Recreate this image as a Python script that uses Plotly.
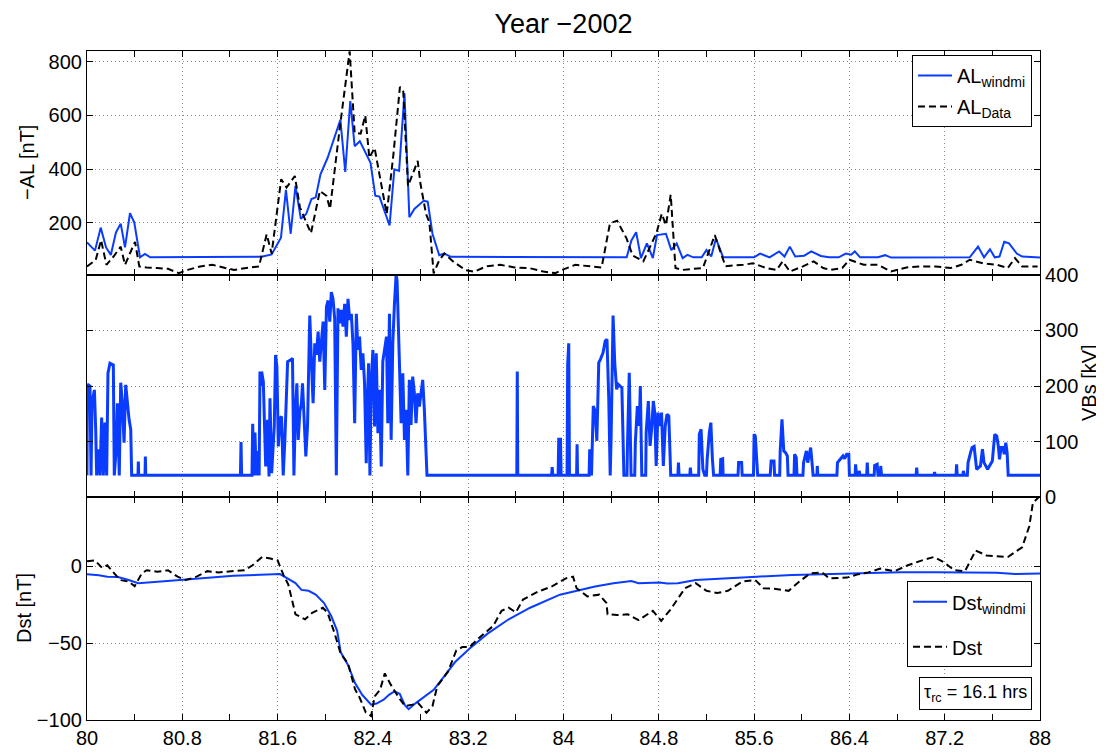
import plotly.graph_objects as go

# ---------------- data ----------------
x_ticks = [80, 80.8, 81.6, 82.4, 83.2, 84, 84.8, 85.6, 86.4, 87.2, 88]
x_tick_labels = ["80", "80.8", "81.6", "82.4", "83.2", "84", "84.8", "85.6", "86.4", "87.2", "88"]
al_ticks = [200, 400, 600, 800]
vbs_ticks = [0, 100, 200, 300, 400]
dst_ticks = [-100, -50, 0]

# -AL from WINDMI model
al_windmi_x = [
    80.0, 80.067, 80.115, 80.16, 80.2, 80.243, 80.283, 80.319, 80.361, 80.397,
    80.445, 80.487, 80.53, 81.466, 81.55, 81.628, 81.67, 81.71, 81.75, 81.795,
    81.84, 81.884, 81.92, 81.96, 82.02, 82.127, 82.168, 82.21, 82.247, 82.29,
    82.38, 82.42, 82.455, 82.54, 82.58, 82.62, 82.665, 82.706, 82.748, 82.826,
    82.86, 82.90, 82.957, 82.999, 83.055, 84.53, 84.57, 84.61, 84.65, 84.70,
    84.75, 84.785, 84.86, 84.905, 84.95, 85.0, 85.04, 85.09, 85.16, 85.2,
    85.24, 85.28, 85.34, 85.6, 85.65, 85.73, 85.81, 85.855, 85.9, 85.945,
    86.02, 86.08, 86.16, 86.23, 86.31, 86.37, 86.415, 86.445, 86.49, 86.64,
    86.7, 86.75, 87.41, 87.48, 87.53, 87.58, 87.62, 87.66, 87.70, 87.74,
    87.805, 87.85, 88.0]
al_windmi = [
    126, 95, 181, 107, 79, 163, 196, 107, 235, 200,
    70, 83, 70, 72, 81, 143, 322, 158, 337, 214,
    232, 288, 294, 380, 442, 584, 389, 654, 485, 504,
    423, 300, 297, 189, 399, 393, 683, 220, 251, 281,
    278, 158, 78, 84, 72, 70, 133, 164, 67, 122,
    67, 153, 158, 97, 122, 67, 79, 70, 70, 97,
    73, 140, 70, 70, 84, 70, 92, 73, 110, 73,
    76, 92, 75, 70, 70, 84, 80, 92, 70, 70,
    78, 69, 70, 110, 70, 100, 70, 73, 128, 122,
    84, 73, 69]

# -AL observed
al_data_x = [
    80.0, 80.073, 80.118, 80.163, 80.223, 80.283, 80.319, 80.369, 80.403, 80.439,
    80.5, 80.588, 80.68, 80.77, 80.845, 80.95, 81.054, 81.16, 81.234, 81.369,
    81.444, 81.508, 81.55, 81.63, 81.675, 81.745, 81.787, 81.88, 81.955, 82.01,
    82.04, 82.12, 82.205, 82.247, 82.297, 82.336, 82.37, 82.414, 82.516, 82.572,
    82.627, 82.655, 82.695, 82.776, 82.80, 82.846, 82.874, 82.91, 82.957, 83.0,
    83.08, 83.18, 83.25, 83.35, 83.47, 83.59, 83.71, 83.83, 83.93, 84.0,
    84.1, 84.23, 84.32, 84.39, 84.45, 84.53, 84.58, 84.67, 84.78, 84.825,
    84.86, 84.9, 84.94, 85.0, 85.17, 85.21, 85.27, 85.33, 85.36, 85.51,
    85.59, 85.7, 85.79, 85.84, 85.9, 86.01, 86.1, 86.18, 86.24, 86.34,
    86.4, 86.52, 86.64, 86.75, 86.88, 87.0, 87.125, 87.25, 87.34, 87.41,
    87.52, 87.64, 87.73, 87.79, 87.85, 87.98]
al_data = [
    36, 60, 134, 42, 73, 110, 42, 91, 128, 36,
    32, 30, 27, 11, 23, 36, 42, 30, 23, 32,
    36, 156, 84, 362, 331, 374, 257, 160, 318, 300,
    251, 547, 840, 535, 532, 600, 442, 479, 232, 454,
    707, 689, 337, 430, 343, 232, 201, 10, 59, 84,
    52, 22, 16, 36, 42, 32, 30, 17, 11, 25,
    42, 36, 32, 197, 207, 140, 77, 55, 160, 233,
    190, 304, 30, 23, 30, 79, 153, 74, 37, 42,
    48, 30, 23, 55, 17, 36, 55, 30, 23, 30,
    61, 42, 42, 17, 32, 36, 36, 30, 42, 61,
    48, 42, 30, 67, 36, 36]

# VBs driver
vbs_x = [
    80.0, 80.003, 80.025, 80.034, 80.042, 80.062, 80.073, 80.081, 80.095, 80.109, 80.123, 80.137, 80.151, 80.165,
    80.176, 80.193, 80.221, 80.229, 80.243, 80.255, 80.271, 80.283, 80.297, 80.311, 80.325, 80.339, 80.353, 80.367, 80.375,
    80.428, 80.431, 80.434, 80.487, 80.49, 80.493, 81.288, 81.293, 81.298, 81.385, 81.391, 81.40, 81.41, 81.42, 81.435, 81.445, 81.452, 81.46,
    81.466, 81.48, 81.5, 81.516, 81.528, 81.536, 81.55, 81.572, 81.583, 81.594, 81.606, 81.62, 81.633, 81.647,
    81.661, 81.684, 81.711, 81.725, 81.737, 81.75, 81.762, 81.773, 81.787, 81.8, 81.809, 81.823, 81.837, 81.851,
    81.87, 81.884, 81.898, 81.912, 81.926, 81.94, 81.954, 81.962, 81.982, 81.996, 82.01, 82.024, 82.038, 82.051, 82.065, 82.079,
    82.093, 82.107, 82.121, 82.135, 82.149, 82.163, 82.177, 82.191, 82.205, 82.219, 82.233, 82.247, 82.261, 82.274, 82.288, 82.302,
    82.316, 82.33, 82.344, 82.352, 82.364, 82.375, 82.386, 82.4, 82.414, 82.428, 82.442, 82.456, 82.47, 82.483, 82.503, 82.514,
    82.525, 82.539, 82.553, 82.567, 82.581, 82.595, 82.603, 82.614, 82.626, 82.637, 82.651, 82.665, 82.679, 82.693, 82.706,
    82.72, 82.734, 82.748, 82.762, 82.776, 82.79, 82.804, 82.818, 82.832, 82.846, 82.854,
    83.608, 83.612, 83.616, 83.90, 83.905, 83.91, 83.955, 83.96, 83.975, 83.98, 84.03, 84.035, 84.044, 84.05, 84.11, 84.114, 84.118,
    84.215, 84.22, 84.235, 84.25, 84.265, 84.28, 84.296, 84.31, 84.332, 84.35, 84.365, 84.38, 84.392,
    84.40, 84.416, 84.43, 84.446, 84.46, 84.477, 84.49, 84.507, 84.533, 84.537, 84.552, 84.567, 84.598,
    84.603, 84.62, 84.636, 84.645, 84.657, 84.69, 84.694, 84.712, 84.727, 84.742, 84.754,
    84.766, 84.778, 84.793, 84.808, 84.823, 84.838, 84.854, 84.869, 84.884, 84.9, 84.96, 84.965, 84.97,
    85.06, 85.065, 85.07, 85.135, 85.14, 85.155, 85.17, 85.185, 85.2, 85.206, 85.224, 85.237, 85.25, 85.26, 85.315, 85.32, 85.336, 85.34,
    85.465, 85.47, 85.495, 85.5, 85.595, 85.6, 85.61, 85.623, 85.63, 85.735, 85.743, 85.767, 85.772, 85.815, 85.819, 85.834, 85.849, 85.864, 85.879, 85.885, 85.935, 85.94, 85.954, 85.96,
    86.01, 86.015, 86.03, 86.039, 86.05, 86.063, 86.075, 86.09, 86.095, 86.128, 86.13, 86.135,
    86.295, 86.30, 86.33, 86.346, 86.36, 86.377, 86.395, 86.40, 86.448, 86.452, 86.46, 86.478, 86.482, 86.49, 86.545, 86.55, 86.555, 86.608, 86.612, 86.633, 86.64, 86.66, 86.663, 86.67,
    86.96, 86.965, 86.97, 87.11, 87.115, 87.12, 87.295, 87.30, 87.305, 87.352, 87.357, 87.365,
    87.39, 87.396, 87.417, 87.43, 87.447, 87.468, 87.5, 87.517, 87.53, 87.56, 87.6, 87.62, 87.637, 87.65, 87.66, 87.673, 87.688, 87.70, 87.713, 87.724, 87.733, 88.0]
vbs = [
    39, 203, 200, 39, 169, 193, 122, 39, 86, 39, 143, 39, 134, 39,
    223, 241, 238, 39, 80, 169, 39, 206, 169, 98, 202, 169, 140, 122, 39,
    39, 64, 39, 39, 73, 39, 39, 99, 39, 39, 132, 39, 116, 39, 83, 39, 226, 200,
    226, 208, 55, 139, 37, 178, 43, 127, 256, 235, 91, 142, 145, 39,
    103, 244, 247, 250, 39, 157, 205, 103, 154, 169, 205, 133, 73, 127,
    327, 244, 169, 277, 256, 298, 244, 265, 316, 193, 343, 354, 316, 369, 357, 322,
    39, 340, 313, 337, 307, 348, 289, 357, 319, 330, 274, 133, 330, 265, 289, 229,
    259, 205, 61, 163, 241, 39, 205, 265, 127, 259, 115, 193, 55, 244, 280, 289,
    133, 330, 103, 277, 348, 401, 390, 307, 205, 133, 223, 103, 157, 39, 211,
    130, 217, 187, 133, 187, 163, 187, 211, 157, 73, 39,
    39, 226, 39, 39, 54, 39, 39, 104, 104, 39, 39, 238, 277, 39, 39, 95, 39,
    39, 86, 39, 164, 155, 101, 242, 248, 260, 281, 284, 176, 39,
    110, 327, 242, 194, 203, 200, 197, 39, 39, 92, 224, 39, 39,
    98, 164, 128, 200, 39, 39, 116, 173, 92, 128, 173,
    152, 56, 152, 128, 152, 56, 128, 149, 146, 39, 39, 62, 39,
    39, 53, 39, 39, 113, 122, 50, 39, 39, 68, 116, 134, 68, 39, 39, 68, 69, 39,
    39, 62, 62, 39, 39, 113, 110, 56, 39, 39, 65, 65, 39, 39, 83, 140, 83, 80, 74, 39, 39, 77, 71, 39,
    39, 62, 74, 83, 62, 80, 89, 53, 39, 39, 56, 39,
    39, 62, 71, 74, 69, 77, 77, 39, 39, 59, 39, 39, 47, 39, 39, 62, 39, 39, 57, 59, 39, 39, 56, 39,
    39, 53, 39, 39, 45, 39, 39, 59, 39, 39, 47, 39,
    39, 62, 80, 89, 91, 50, 56, 86, 62, 50, 65, 113, 110, 92, 68, 89, 89, 77, 98, 80, 39, 39]

# Dst from WINDMI model
dst_windmi_x = [
    80.0, 80.1, 80.17, 80.26, 80.35, 80.43, 80.62, 80.92, 81.23, 81.62,
    81.68, 81.75, 81.8, 81.86, 81.92, 81.99, 82.05, 82.1, 82.13, 82.19,
    82.25, 82.31, 82.385, 82.43, 82.49, 82.535, 82.58, 82.625, 82.67, 82.7,
    82.76, 82.84, 82.91, 83.0, 83.09, 83.21, 83.36, 83.54, 83.72, 83.97,
    84.11, 84.265, 84.42, 84.57, 84.63, 84.81, 84.87, 84.96, 85.11, 85.32,
    85.62, 85.92, 86.23, 86.53, 86.83, 87.13, 87.43, 87.64, 87.79, 88.0]
dst_windmi = [
    -5.3, -5.8, -6.8, -7, -9, -11, -10, -8, -6.2, -5.1,
    -7.9, -11, -15.4, -16, -18.5, -24, -32.4, -42, -56, -64,
    -76, -83.6, -90, -89.3, -86.8, -83.6, -81.4, -83, -90.6, -93,
    -89, -84.6, -80.4, -71.4, -62.3, -53.7, -44, -34.5, -27, -18.5,
    -16, -13.2, -11, -9.6, -11, -10.6, -11.3, -11, -8.9, -7.9,
    -6.8, -5.7, -5.1, -4.5, -4, -4, -4, -4.3, -5.1, -4.7]

# Dst observed
dst_data_x = [
    80.0, 80.066, 80.126, 80.17, 80.217, 80.28, 80.35, 80.4, 80.46, 80.5,
    80.59, 80.68, 80.76, 80.83, 80.92, 81.01, 81.1, 81.2, 81.32, 81.39,
    81.47, 81.54, 81.6, 81.65, 81.69, 81.75, 81.83, 81.89, 81.98, 82.02,
    82.08, 82.13, 82.19, 82.25, 82.29, 82.34, 82.385, 82.415, 82.46, 82.5,
    82.55, 82.61, 82.67, 82.73, 82.78, 82.85, 82.9, 82.94, 83.03, 83.1,
    83.15, 83.21, 83.3, 83.41, 83.48, 83.54, 83.6, 83.66, 83.79, 83.9,
    84.02, 84.08, 84.11, 84.2, 84.3, 84.36, 84.37, 84.45, 84.54, 84.63,
    84.75, 84.82, 84.9, 85.02, 85.11, 85.2, 85.29, 85.38, 85.5, 85.61,
    85.68, 85.77, 85.89, 85.98, 86.07, 86.17, 86.23, 86.38, 86.47, 86.56,
    86.66, 86.78, 86.89, 87.01, 87.11, 87.19, 87.28, 87.37, 87.46, 87.55,
    87.73, 87.85, 87.91, 87.94, 87.99]
dst_data = [
    3.2, 3.8, -1, 0.6, -3.6, -9, -10, -13, -4.7, -2.6,
    -3.6, -2.6, -6.8, -9, -6.8, -3.2, -4, -3.2, -2.6, 0.6,
    6, 5, 3.8, -5.8, -12, -31.3, -34.5, -30.3, -27, -30.3,
    -44, -57, -63, -80, -85.7, -95, -97.4, -84.6, -80.4, -69.7,
    -77, -84.6, -91, -90, -89, -95.3, -91, -78, -68.6, -54.8,
    -52.6, -52.6, -46, -38.8, -29, -27, -30, -21.7, -16.4, -13.2,
    -7.9, -6.8, -14.3, -19.6, -18.5, -23.8, -31.3, -31.7, -31.3, -35,
    -29, -35.5, -28, -14.3, -11, -16, -17.4, -16, -10, -9,
    -14.3, -14.7, -16, -10, -4.7, -4, -7.9, -7.4, -5.3, -4,
    -1.5, -3.2, 0.6, 3.8, 6, 2.8, -2.6, -3.2, 10.2, 7,
    6, 12.3, 26, 41, 45]

assert len(vbs_x) == len(vbs)
assert len(al_windmi_x) == len(al_windmi)
assert len(al_data_x) == len(al_data)
assert len(dst_windmi_x) == len(dst_windmi)
assert len(dst_data_x) == len(dst_data)

# ---------------- styling ----------------
BLUE = "#0a3cff"
FONT = "Liberation Sans, Arial, Helvetica, sans-serif"
FS = 20
DASH = "7px,4px"

fig = go.Figure()
fig.add_trace(go.Scatter(x=al_windmi_x, y=al_windmi, mode="lines",
                         line=dict(color=BLUE, width=2), name="AL<sub>windmi</sub>",
                         xaxis="x3", yaxis="y3", legend="legend", legendgroup="a"))
fig.add_trace(go.Scatter(x=al_data_x, y=al_data, mode="lines",
                         line=dict(color="black", width=2, dash=DASH), name="AL<sub>Data</sub>",
                         xaxis="x3", yaxis="y3", legend="legend", legendgroup="b"))
fig.add_trace(go.Scatter(x=vbs_x, y=vbs, mode="lines",
                         line=dict(color=BLUE, width=3), name="VBs",
                         xaxis="x2", yaxis="y2", showlegend=False))
fig.add_trace(go.Scatter(x=dst_windmi_x, y=dst_windmi, mode="lines",
                         line=dict(color=BLUE, width=2), name="Dst<sub>windmi</sub>",
                         xaxis="x", yaxis="y", legend="legend2", legendgroup="c"))
fig.add_trace(go.Scatter(x=dst_data_x, y=dst_data, mode="lines",
                         line=dict(color="black", width=2, dash=DASH), name="Dst",
                         xaxis="x", yaxis="y", legend="legend2", legendgroup="d"))

grid = dict(showgrid=True, gridcolor="#8a8a8a", griddash="1px,3px", gridwidth=1)
common = dict(showline=True, linecolor="black", linewidth=1.2, mirror="ticks",
              ticks="inside", ticklen=6, tickcolor="black", tickwidth=1,
              zeroline=False, tickfont=dict(size=FS, family=FONT, color="black"), **grid)


def xax(anchor, labels):
    return dict(common, range=[80, 88], anchor=anchor, tickmode="array",
                tickvals=x_ticks, ticktext=x_tick_labels, showticklabels=labels,
                minor=dict(tick0=80, dtick=0.4, ticks="inside", ticklen=6,
                           tickcolor="black", showgrid=False))


D1, D2 = 0.3333, 0.6652
# plot area on screen: left 87, right 1040, top 51, bottom 726 (page has an 8px body margin)
PL, PW, PT, PH = 87, 953, 51, 675


def px_x(px):
    return (px - PL) / PW


def px_y(py):
    return (PT + PH - py) / PH


ytitle = dict(xref="paper", yref="paper", showarrow=False, textangle=-90,
              font=dict(size=FS, family=FONT, color="black"),
              xanchor="center", yanchor="middle")

fig.update_layout(
    width=1104, height=753,
    margin=dict(l=79, r=72, t=43, b=35),
    paper_bgcolor="white", plot_bgcolor="white",
    font=dict(family=FONT, size=FS, color="black"),
    title=dict(text="Year −2002", x=0.5, xref="paper", y=1 - 16 / 753,
               yref="container", yanchor="middle", font=dict(size=27, family=FONT)),
    xaxis=xax("y", True),
    xaxis2=dict(xax("y2", False), matches="x"),
    xaxis3=dict(xax("y3", False), matches="x"),
    yaxis=dict(common, domain=[0, D1], range=[-100, 45], tickmode="array",
               tickvals=dst_ticks, anchor="x"),
    yaxis2=dict(common, domain=[D1, D2], range=[0, 400], tickmode="array",
                tickvals=vbs_ticks, side="right", anchor="x2"),
    yaxis3=dict(common, domain=[D2, 1], range=[4, 841], tickmode="array",
                tickvals=al_ticks, anchor="x3"),
    legend=dict(x=px_x(1032), xanchor="right", y=px_y(55), yanchor="top",
                bgcolor="white", bordercolor="black", borderwidth=1,
                font=dict(size=FS, family=FONT), traceorder="grouped",
                tracegroupgap=2, itemwidth=34),
    legend2=dict(x=px_x(1032), xanchor="right", y=px_y(586), yanchor="top",
                 bgcolor="white", bordercolor="black", borderwidth=1,
                 font=dict(size=FS, family=FONT), traceorder="grouped",
                 tracegroupgap=16, itemwidth=34),
    annotations=[
        dict(ytitle, text="−AL [nT]", x=px_x(27), y=px_y(164)),
        dict(ytitle, text="VBs [kV]", x=px_x(1089), y=px_y(386)),
        dict(ytitle, text="Dst [nT]", x=px_x(24), y=px_y(613)),
        dict(text="τ<sub>rc</sub> = 16.1 hrs", xref="paper", yref="paper",
             x=px_x(1032), xanchor="right", y=px_y(683), yanchor="top",
             showarrow=False, bordercolor="black", borderwidth=1,
             borderpad=4, bgcolor="white", font=dict(size=18, family=FONT)),
    ],
)

fig.write_html("out.html")
